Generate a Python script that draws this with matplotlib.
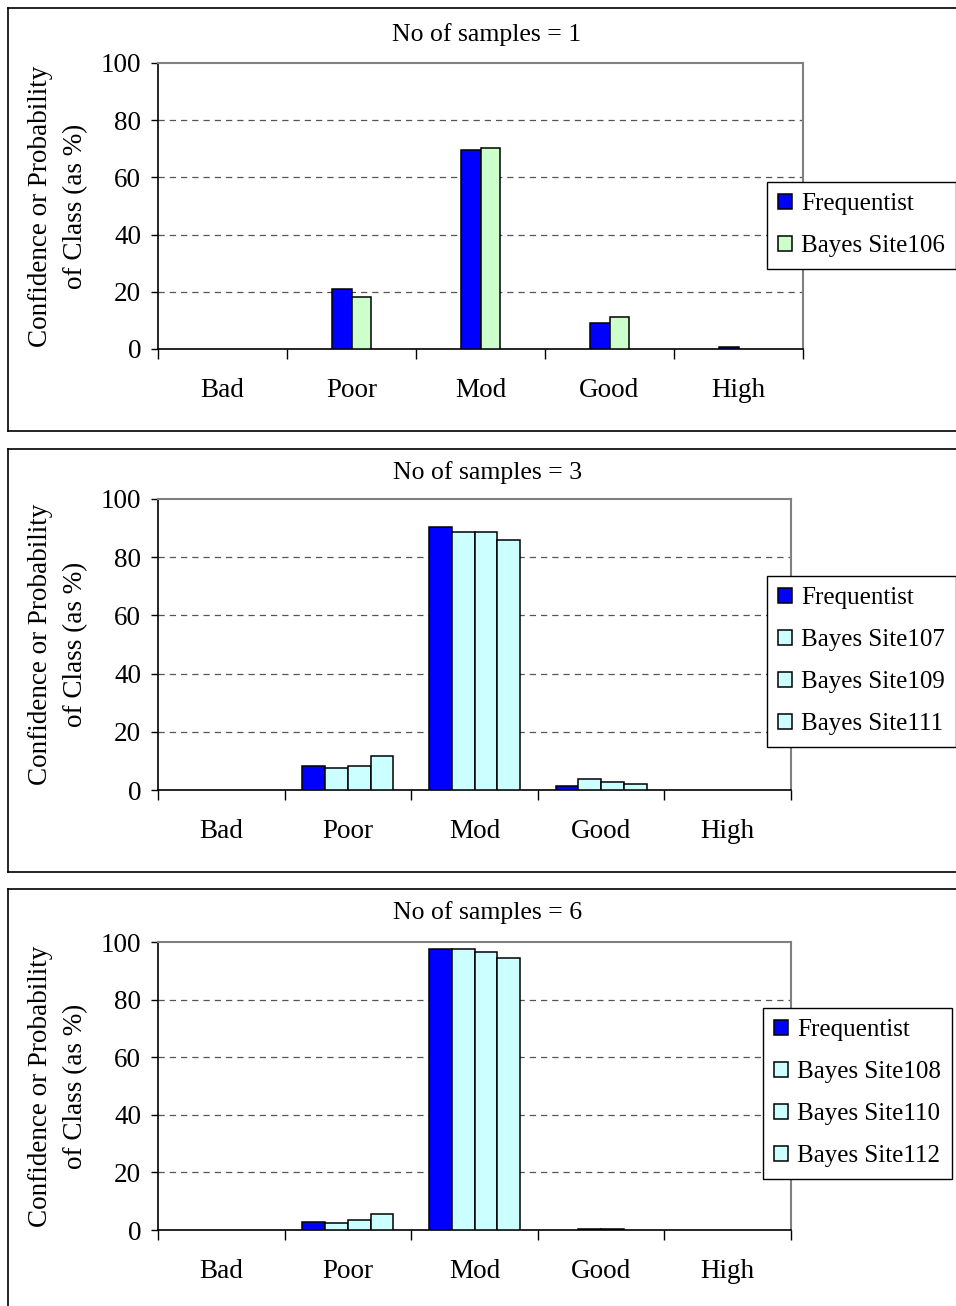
import matplotlib

matplotlib.use("Agg")
import matplotlib.pyplot as plt
from matplotlib.lines import Line2D
import numpy as np

plt.rcParams["font.family"] = ["Liberation Serif", "DejaVu Serif"]

categories = ["Bad", "Poor", "Mod", "Good", "High"]

# panel 1: No of samples = 1
freq_1 = [0, 20.9, 69.5, 9.1, 0.6]
bayes_106 = [0, 18.1, 70.2, 11.1, 0]

# panel 2: No of samples = 3
freq_3 = [0, 8.3, 90.4, 1.4, 0]
bayes_107 = [0, 7.4, 88.7, 3.7, 0]
bayes_109 = [0, 8.2, 88.7, 2.6, 0]
bayes_111 = [0, 11.7, 85.9, 2.0, 0]

# panel 3: No of samples = 6
freq_6 = [0, 2.8, 97.6, 0, 0]
bayes_108 = [0, 2.5, 97.6, 0.3, 0]
bayes_110 = [0, 3.5, 96.5, 0.3, 0]
bayes_112 = [0, 5.6, 94.4, 0, 0]

W, H = 956, 1306
BLUE = "#0000FF"
GREEN = "#CCFFCC"
CYAN = "#CCFFFF"
FS = 19.5
LEG_FS = 18

fig = plt.figure(figsize=(W / 100, H / 100), dpi=100)


def px_rect(l, t, r, b):
    return [l / W, 1 - b / H, (r - l) / W, (b - t) / H]


def panel_frame(top, bottom):
    kw = dict(color="black", lw=1.2, transform=fig.transFigure)
    fig.add_artist(Line2D([8 / W, 8 / W], [1 - top / H, 1 - bottom / H], **kw))
    fig.add_artist(Line2D([8 / W, 1.01], [1 - top / H, 1 - top / H], **kw))
    if bottom < H:
        fig.add_artist(Line2D([8 / W, 1.01], [1 - bottom / H, 1 - bottom / H], **kw))


def panel(box, title, title_x, title_y, series, labels, colors, width, leg_xy):
    ax = fig.add_axes(px_rect(*box))
    n = len(series)
    x = np.arange(len(categories))
    for i, (vals, lab, col) in enumerate(zip(series, labels, colors)):
        vals = np.asarray(vals, dtype=float)
        keep = vals > 0
        off = (i - (n - 1) / 2) * width
        ax.bar(x[keep] + off, vals[keep], width, color=col, edgecolor="black",
               linewidth=1.1, label=lab, zorder=3)
    ax.set_xlim(-0.5, len(categories) - 0.5)
    ax.set_ylim(0, 100)
    ax.set_yticks(range(0, 101, 20))
    ax.set_xticks(np.arange(-0.5, len(categories)), labels=[])
    ax.set_xticks(x, labels=categories, minor=True)
    ax.tick_params(axis="x", which="major", direction="out", length=7, width=1)
    ax.tick_params(axis="x", which="minor", length=0, pad=21, labelsize=FS)
    ax.tick_params(axis="y", direction="out", length=5, width=1, pad=7, labelsize=FS)
    for y in range(20, 100, 20):
        ax.axhline(y, color="#555555", lw=0.9, ls=(0, (5, 4)), zorder=1)
    for s in ("top", "right"):
        ax.spines[s].set_color("#808080")
        ax.spines[s].set_linewidth(1.5)
    for s in ("left", "bottom"):
        ax.spines[s].set_linewidth(1.2)
    fig.text(title_x / W, 1 - title_y / H, title, ha="center", va="center", fontsize=18.5)
    cy = 1 - (box[1] + box[3]) / 2 / H
    fig.text(58 / W, cy, "Confidence or Probability\nof Class (as %)", rotation=90,
             ha="center", va="center", fontsize=FS, linespacing=1.5)
    leg = ax.legend(loc="upper left", bbox_to_anchor=(leg_xy[0] / W, 1 - leg_xy[1] / H),
                    bbox_transform=fig.transFigure, fontsize=LEG_FS, frameon=True,
                    fancybox=False, framealpha=1, edgecolor="black",
                    handlelength=0.55, handleheight=0.55, handletextpad=0.35,
                    labelspacing=0.8, borderpad=0.45, borderaxespad=0)
    leg.get_frame().set_linewidth(1.0)
    return ax


panel_frame(8, 431)
panel((158, 63, 803, 349), "No of samples = 1", 487, 35,
      [freq_1, bayes_106], ["Frequentist", "Bayes Site106"], [BLUE, GREEN],
      0.155, (767, 182))

panel_frame(449, 872)
panel((158, 499, 791, 790), "No of samples = 3", 488, 473,
      [freq_3, bayes_107, bayes_109, bayes_111],
      ["Frequentist", "Bayes Site107", "Bayes Site109", "Bayes Site111"],
      [BLUE, CYAN, CYAN, CYAN], 0.18, (767, 576))

panel_frame(889, H + 10)
panel((158, 942, 791, 1230), "No of samples = 6", 488, 913,
      [freq_6, bayes_108, bayes_110, bayes_112],
      ["Frequentist", "Bayes Site108", "Bayes Site110", "Bayes Site112"],
      [BLUE, CYAN, CYAN, CYAN], 0.18, (763, 1008))

fig.savefig("out.png", dpi=100)
